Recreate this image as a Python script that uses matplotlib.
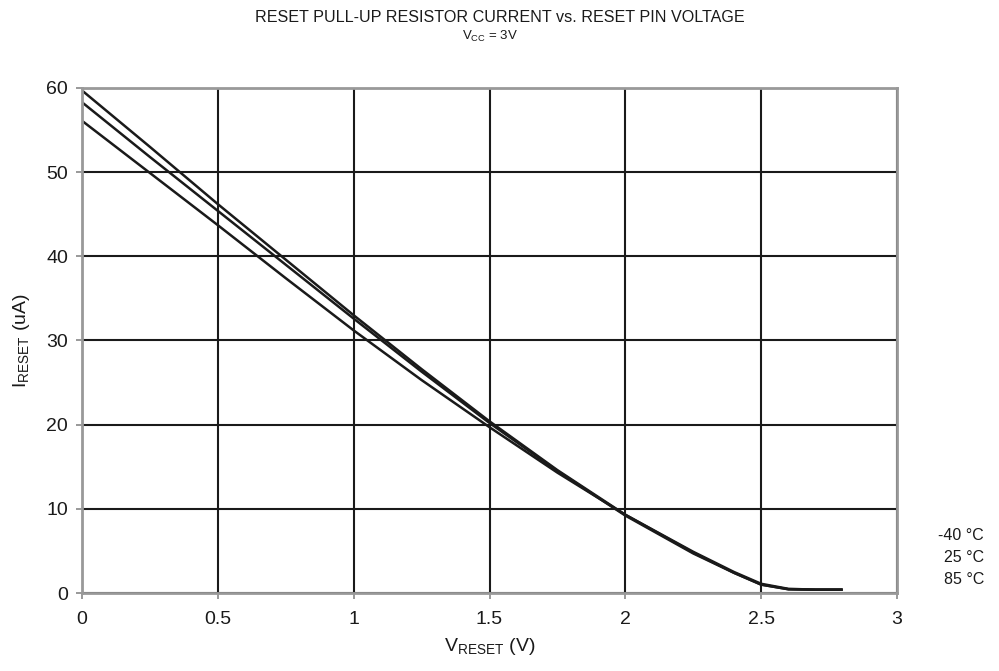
import matplotlib
matplotlib.use("Agg")
import matplotlib.pyplot as plt
import numpy as np

plt.rcParams['font.family'] = ['Liberation Sans', 'DejaVu Sans']
plt.rcParams['mathtext.fontset'] = 'custom'
plt.rcParams['mathtext.rm'] = 'Liberation Sans'
plt.rcParams['mathtext.default'] = 'regular'

v_reset = [0, 0.25, 0.5, 0.75, 1.0, 1.25, 1.5, 1.75, 2.0, 2.25, 2.4, 2.5, 2.6, 2.7, 2.8]
i_m40 = [59.7, 53.0, 46.2, 39.6, 33.0, 26.6, 20.4, 14.6, 9.3, 4.9, 2.5, 1.1, 0.5, 0.4, 0.4]
i_25 = [58.3, 51.8, 45.4, 39.0, 32.6, 26.3, 20.2, 14.5, 9.2, 4.7, 2.4, 1.0, 0.45, 0.4, 0.4]
i_85 = [56.1, 49.9, 43.7, 37.4, 31.2, 25.3, 19.7, 14.3, 9.3, 4.8, 2.4, 1.0, 0.45, 0.4, 0.4]
series_labels = ['-40 °C', '25 °C', '85 °C']
x_ticks = [0, 0.5, 1, 1.5, 2, 2.5, 3]
x_tick_labels = ['0', '0.5', '1', '1.5', '2', '2.5', '3']
y_ticks = [0, 10, 20, 30, 40, 50, 60]

fig = plt.figure(figsize=(9.99, 6.71), dpi=100)
ax = fig.add_axes([0.0821, 0.1162, 0.8158, 0.7527])

for ys in (i_m40, i_25, i_85):
    ax.plot(v_reset, ys, color='#1a1a1a', lw=1.8, solid_capstyle='butt', zorder=3)

ax.set_xlim(0, 3)
ax.set_ylim(0, 60)
ax.set_xticks(x_ticks)
ax.set_xticklabels(x_tick_labels)
ax.set_yticks(y_ticks)
ax.grid(True, color='#1a1a1a', lw=1.5)
ax.set_axisbelow(True)
for s in ax.spines.values():
    s.set_color('#999999')
    s.set_linewidth(2)
    s.set_zorder(4)
ax.tick_params(axis='both', direction='out', length=4, width=1.2, color='#888888',
               labelsize=14, labelcolor='#1a1a1a')
ax.tick_params(axis='x', pad=9)
ax.tick_params(axis='y', pad=6)

ax.set_xlabel(r'$V_{RESET}$ (V)', fontsize=14, color='#1a1a1a', labelpad=6)
ax.set_ylabel(r'$I_{RESET}$ (uA)', fontsize=14, color='#1a1a1a', labelpad=10)

fig.text(0.5, 0.974, 'RESET PULL-UP RESISTOR CURRENT vs. RESET PIN VOLTAGE',
         ha='center', va='center', fontsize=11.6, color='#1a1a1a')
fig.text(0.49, 0.945, r'$V_{CC}$ = 3V', ha='center', va='center', fontsize=9.5, color='#1a1a1a')

for lbl, ypx in zip(series_labels, [535, 558, 580]):
    fig.text(984 / 999, 1 - ypx / 671, lbl, ha='right', va='center', fontsize=11.5, color='#1a1a1a')

fig.savefig('out.png', dpi=100)
